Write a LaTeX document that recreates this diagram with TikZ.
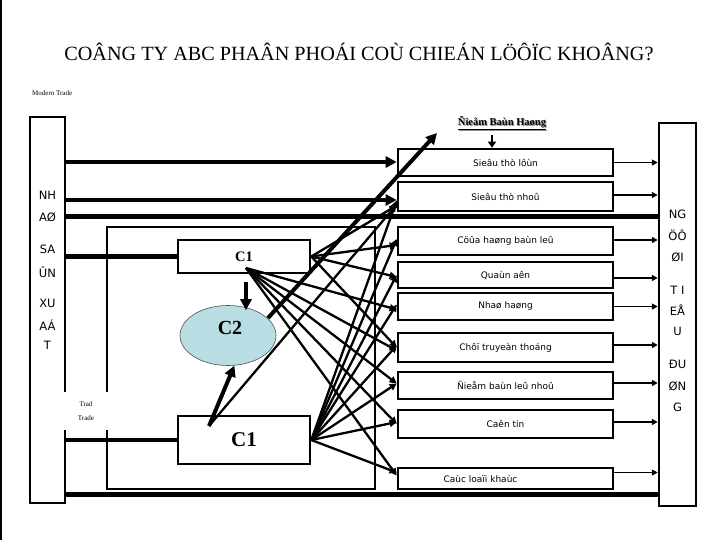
\documentclass[tikz,border=0pt]{standalone}
\usepackage{fontspec}
\setmainfont{Liberation Serif}
\newfontfamily\boxfont{DejaVu Sans}
\usetikzlibrary{arrows.meta,shapes.geometric}
\definecolor{ctwo}{RGB}{184,221,226}
\begin{document}
\begin{tikzpicture}[x=1pt,y=-1pt,
  tall/.style={draw,line width=2.5pt,inner sep=0pt},
  mbox/.style={draw,line width=2.6pt,minimum width=215pt,inner sep=0pt,font=\boxfont\fontsize{9}{10}\selectfont},
  cbox/.style={draw,line width=2.6pt,minimum width=132pt,inner sep=0pt,font=\bfseries},
  tallt/.style={font=\boxfont\fontsize{11.5}{12}\selectfont,inner sep=0pt},
  thickl/.style={line width=4.5pt},
  bigarr/.style={line width=4pt,-{Triangle[length=11pt,width=11pt]}},
  fan/.style={line width=2.3pt,-{Triangle[length=7pt,width=7pt]}},
  outarr/.style={line width=1.6pt,-{Triangle[length=6pt,width=6pt]}}]
\useasboundingbox (0,0) rectangle (720,540);
\draw[line width=1.2pt] (1,0) -- (1,540);
% title
\node (title) at (359,52) {\fontsize{20.2}{22}\selectfont CO\^ANG TY ABC PHA\^AN PHO\'AI CO\`U CHIE\'AN L\"O\^O\"IC KHO\^ANG?};
\node[font=\fontsize{7}{8}\selectfont,anchor=west,inner sep=0pt] (modern) at (32,93) {Modern Trade};
% tall boxes
\node[tall,minimum width=35pt,minimum height=386pt] (L) at (47.5,310) {};
\node[tall,minimum width=37pt,minimum height=383pt] (R) at (677.5,314.5) {};
\foreach \t/\yy/\n in {NH/195/1,AØ/217/2,SA/249/3,ÛN/272/4,XU/303/5,AÁ/325/6,T/345/7}
  \node[tallt] (lt\n) at (47.5,\yy) {\t};
\foreach \t/\yy/\n in {NG/214/1,ÖÔ/235/2,ØI/257/3,T I/290/4,EÅ/310/5,U/331/6,ĐU/364/7,ØN/386/8,G/407/9}
  \node[tallt] (rt\n) at (677.5,\yy) {\t};
% right column boxes
\node[mbox,minimum height=27pt] (b1) at (505.5,162.5) {Sieâu thò lôùn};
\node[mbox,minimum height=29pt] (b2) at (505.5,196.5) {Sieâu thò nhoû};
\node[mbox,minimum height=28pt] (b3) at (505.5,241) {Cöûa haøng baùn leû};
\node[mbox,minimum height=26pt] (b4) at (505.5,275) {Quaùn aên};
\node[mbox,minimum height=27pt] (b5) at (505.5,306.5) {Nhaø haøng};
\node[mbox,minimum height=29pt] (b6) at (505.5,347.5) {Chôï truyeàn thoáng};
\node[mbox,minimum height=27pt] (b7) at (505.5,385.5) {Ñieåm baùn leû nhoû};
\node[mbox,minimum height=28pt] (b8) at (505.5,424) {Caên tin};
\node[mbox,minimum height=21pt] (b9) at (505.5,478.5) {\hspace*{-50pt}Caùc loaïi khaùc};
% heading
\node[font=\bfseries\fontsize{10.5}{11}\selectfont,text=black!45,inner sep=0pt] (headsh) at (503,124) {\underline{Ñieåm Baùn Haøng}};
\node[font=\bfseries\fontsize{10.5}{11}\selectfont,inner sep=0pt] (head) at (502,123) {\underline{Ñieåm Baùn Haøng}};
\coordinate (hd) at (492,135);
\draw[line width=2.5pt,-{Triangle[length=6pt,width=8pt]}] (hd) -- (hd |- b1.north);
% C boxes and C2
\node[cbox,minimum height=33pt,font=\bfseries\fontsize{14.5}{15}\selectfont] (C1u) at (244,256.5) {C1};
\node[cbox,minimum height=48pt,font=\bfseries\fontsize{21}{22}\selectfont] (C1l) at (244,440) {C1};
\node[ellipse,draw=black!70,line width=0.6pt,fill=ctwo,minimum width=96pt,minimum height=60pt,inner sep=0pt] (C2) at (228,335.5) {};
\node[font=\bfseries\fontsize{20}{22}\selectfont,inner sep=0pt] (C2t) at (230,328) {C2};
% inner rectangle
\coordinate (ra) at (107,227);
\coordinate (rb) at (375,489);
\draw[line width=2.6pt] (ra) rectangle (rb);
% horizontal lines from L
\coordinate (h1) at (0,162);
\coordinate (h2) at (0,200);
\coordinate (h3) at (0,217);
\coordinate (h4) at (0,494);
\draw[thickl,-{Triangle[length=11pt,width=11pt]}] (L.east |- h1) -- (b1.west |- h1);
\draw[thickl,-{Triangle[length=11pt,width=11pt]}] (L.east |- h2) -- (b2.west |- h2);
\draw[line width=5pt] (L.east |- h3) -- (R.west |- h3);
\draw[line width=5pt] (L.east |- h4) -- (R.west |- h4);
\draw[thickl] (L.east |- C1u.west) -- (C1u.west);
\draw[thickl] (L.east |- C1l.west) -- (C1l.west);
% arrows to C2
\coordinate (c1a) at (246,282);
\draw[bigarr,shorten >=-5pt] (c1a) -- (c1a |- C2.north);
\coordinate (s4) at (209,426);
\draw[bigarr] (s4) -- (C2.282);
% fan sources
\coordinate (s1) at (C1u.east);
\coordinate (s2) at (246,268);
\coordinate (s3) at (C1l.east);
% big arrow
\coordinate (bs) at (268,318);
\coordinate (bt) at (437,133);
\draw[bigarr] (bs) -- (bt);
% fan lines
\draw[fan] (s4) -- ([yshift=-8pt]b2.west);
\draw[fan] (s1) -- ([yshift=-9pt]b2.west);
\draw[fan] (s1) -- ([yshift=-4pt]b3.west);
\draw[fan] (s1) -- ([yshift=-2pt]b4.west);
\draw[fan] (s1) -- ([yshift=0pt]b6.west);
\draw[fan] (s2) -- ([yshift=-3pt]b5.west);
\draw[fan] (s2) -- ([yshift=-3pt]b6.west);
\draw[fan] (s2) -- ([yshift=2pt]b7.west);
\draw[fan] (s2) -- ([yshift=0pt]b8.west);
\draw[fan] (s2) -- ([yshift=3pt]b9.west);
\draw[fan] (s3) -- ([yshift=-4pt]b2.west);
\draw[fan] (s3) -- ([yshift=2pt]b3.west);
\draw[fan] (s3) -- ([yshift=0pt]b4.west);
\draw[fan] (s3) -- ([yshift=2pt]b5.west);
\draw[fan] (s3) -- ([yshift=2pt]b6.west);
\draw[fan] (s3) -- ([yshift=2pt]b7.west);
\draw[fan] (s3) -- ([yshift=2pt]b8.west);
\draw[fan] (s3) -- ([yshift=6pt]b9.west);
% outputs to R
\foreach \b/\s in {b1/0,b2/1.5,b3/1,b4/-3,b5/0,b6/2.5,b7/2.5,b8/2,b9/6}{
  \coordinate (o\b) at ([yshift=\s pt]\b.east);
  \draw[outarr] (o\b) -- (R.west |- o\b);}
% Trad Trade label
\node[fill=white,minimum width=46pt,minimum height=38pt,inner sep=0pt,align=center,font=\fontsize{7}{14}\selectfont] (trad) at (86,411) {Trad\\Trade};
\end{tikzpicture}
\end{document}
